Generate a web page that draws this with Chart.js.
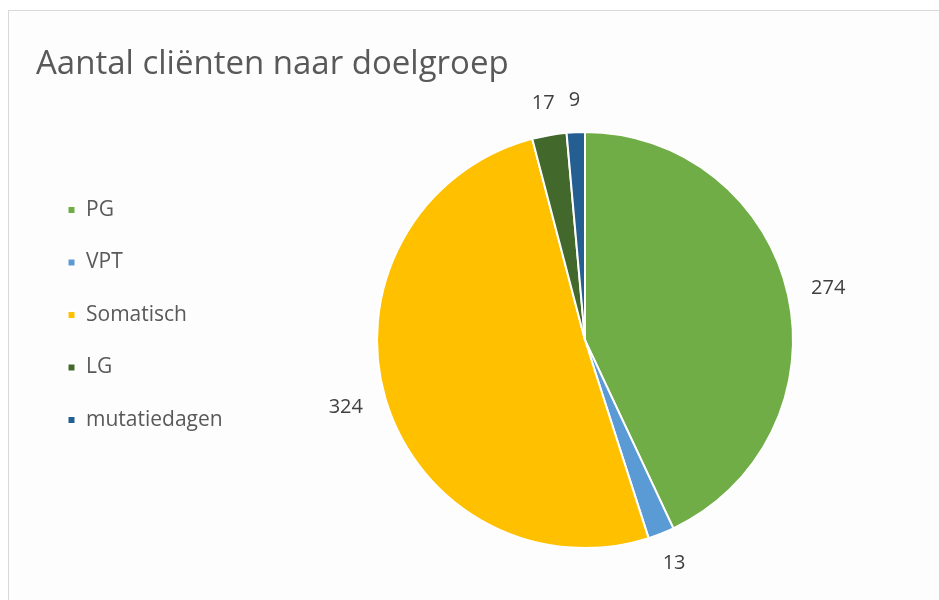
<!DOCTYPE html>
<html>
<head>
<meta charset="utf-8">
<script src="https://cdn.jsdelivr.net/npm/chart.js@4.4.1/dist/chart.umd.min.js"></script>
<style>
  html, body { margin: 0; padding: 0; background: #ffffff; overflow: hidden; }
  body { width: 939px; height: 600px; position: relative; }
  #frame { position: absolute; left: 8px; top: 10px; width: 1000px; height: 700px;
           border: 1px solid #d9d9d9; box-sizing: border-box; background: #fdfdfd; }
  #wrap { position: absolute; left: 0; top: 0; width: 1000px; height: 600px; }
</style>
</head>
<body>
<div id="frame"></div>
<div id="wrap"><canvas id="c" width="1000" height="600"></canvas></div>
<script>
const titleText = 'Aantal cliënten naar doelgroep';
const categories = ['PG', 'VPT', 'Somatisch', 'LG', 'mutatiedagen'];
const values = [274, 13, 324, 17, 9];
const colors = ['#70AD47', '#5B9BD5', '#FFC000', '#43682B', '#255E91'];

const FONT = '"Open Sans", "Noto Sans", sans-serif';
const CX = 585;           // desired pie centre x
const RADIUS = 208;

const labelPlugin = {
  id: 'outerLabels',
  afterDatasetsDraw(chart) {
    const ctx = chart.ctx;
    const meta = chart.getDatasetMeta(0);
    ctx.save();
    ctx.font = '20px ' + FONT;
    ctx.fillStyle = '#404040';
    ctx.textAlign = 'center';
    ctx.textBaseline = 'middle';
    meta.data.forEach((arc, i) => {
      const p = arc.getProps(['x', 'y', 'startAngle', 'endAngle', 'outerRadius'], true);
      const mid = (p.startAngle + p.endAngle) / 2;
      const c = Math.cos(mid), s = Math.sin(mid);
      const txt = String(values[i]);
      const w = ctx.measureText(txt).width;
      const h = 16;
      const d = p.outerRadius + 24;
      const x = p.x + d * c + (w / 2) * c;
      const y = p.y + d * s + (h / 2) * s;
      ctx.fillText(txt, x, y);
    });
    ctx.restore();
  }
};

const chart = new Chart(document.getElementById('c'), {
  type: 'pie',
  data: {
    labels: categories,
    datasets: [{
      data: values,
      backgroundColor: colors,
      borderColor: '#ffffff',
      borderWidth: 2,
      radius: RADIUS,
      clip: false
    }]
  },
  options: {
    responsive: false,
    animation: false,
    layout: { padding: { left: 36, right: 0, top: 0, bottom: 85.5 } },
    plugins: {
      tooltip: { enabled: false },
      title: {
        display: true,
        text: titleText,
        align: 'start',
        color: '#595959',
        font: { family: FONT, size: 33, weight: 'normal', lineHeight: 1.2 },
        padding: { top: 45, bottom: 81 }
      },
      legend: {
        display: true,
        position: 'left',
        align: 'start',
        title: {
          display: true,
          text: '',
          font: { family: FONT, size: 10, lineHeight: 1.2 },
          padding: { top: 156, bottom: 0 }
        },
        labels: {
          boxWidth: 8,
          boxHeight: 8,
          padding: 31.5,
          color: '#595959',
          font: { family: FONT, size: 21 }
        }
      }
    }
  },
  plugins: [labelPlugin]
});

// centre the pie horizontally at CX by adjusting right padding
const left = chart.chartArea.left;
chart.options.layout.padding.right = 1000 - (2 * CX - left);
chart.update('none');
</script>
</body>
</html>
